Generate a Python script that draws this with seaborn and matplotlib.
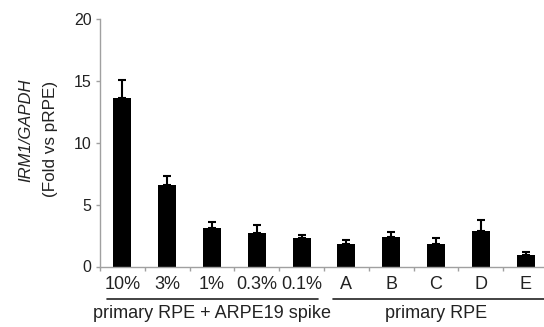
import matplotlib
matplotlib.use("Agg")
import matplotlib.pyplot as plt
import seaborn as sns
import pandas as pd
import numpy as np

categories = ["10%", "3%", "1%", "0.3%", "0.1%", "A", "B", "C", "D", "E"]
values = [13.6, 6.55, 3.08, 2.73, 2.3, 1.84, 2.4, 1.84, 2.87, 0.95]
err_upper = [1.5, 0.75, 0.48, 0.59, 0.27, 0.3, 0.38, 0.48, 0.91, 0.26]
group_labels = ["primary RPE + ARPE19 spike", "primary RPE"]
y_ticks = [0, 5, 10, 15, 20]

sns.set_style("white")
plt.rcParams['font.family'] = ['Liberation Sans', 'DejaVu Sans']

df = pd.DataFrame({"cat": categories, "val": values})

W, H = 544, 327
fig = plt.figure(figsize=(W / 100, H / 100), dpi=100)
ax = fig.add_axes([100 / W, 1 - 266.5 / H, (W - 100) / W, (266.5 - 19) / H])

sns.barplot(data=df, x="cat", y="val", color="black", saturation=1,
            width=0.4, errorbar=None, ax=ax, order=categories)
for p in ax.patches:
    p.set_edgecolor("black")
    p.set_linewidth(0)

xpos = np.arange(len(categories))
ax.errorbar(xpos, values, yerr=[np.zeros(len(values)), err_upper], fmt="none",
            ecolor="black", elinewidth=1.5, capsize=3, capthick=1.5)

ax.set_xlim(-0.5, 9.41)
ax.set_ylim(0, 20)
ax.set_yticks(y_ticks)
ax.set_yticklabels([str(t) for t in y_ticks], fontsize=11.5, color="#222222")

ax.set_xticks(xpos)
ax.set_xticklabels(categories, fontsize=13, color="#222222")
ax.tick_params(axis="x", which="major", length=0, pad=7)
ax.set_xticks(np.arange(-0.5, 9.0, 1.0), minor=True)
ax.tick_params(axis="x", which="minor", length=3, width=1, color="#a0a0a0", direction="out", bottom=True)
ax.tick_params(axis="y", length=3, width=1, color="#a0a0a0", direction="out", left=True, pad=3)

ax.set_xlabel("")
ax.set_ylabel("")
for s in ["top", "right"]:
    ax.spines[s].set_visible(False)
for s in ["left", "bottom"]:
    ax.spines[s].set_color("#a0a0a0")
    ax.spines[s].set_linewidth(1)

tr = ax.get_xaxis_transform()
ax.plot([-0.35, 4.37], [-0.131, -0.131], color="#222222", lw=1.2, transform=tr, clip_on=False)
ax.plot([4.71, 9.41], [-0.131, -0.131], color="#222222", lw=1.2, transform=tr, clip_on=False)
ax.text(2.0, -0.188, group_labels[0], transform=tr, ha="center", va="center", fontsize=13, color="#222222")
ax.text(7.0, -0.188, group_labels[1], transform=tr, ha="center", va="center", fontsize=13, color="#222222")

fig.text(26 / W, 1 - 130 / H, "IRM1/GAPDH", rotation=90, ha="center", va="center",
         fontsize=12, style="italic", color="#222222")
fig.text(50 / W, 1 - 139 / H, "(Fold vs pRPE)", rotation=90, ha="center", va="center",
         fontsize=12.3, color="#222222")

fig.savefig("out.png", dpi=100)
